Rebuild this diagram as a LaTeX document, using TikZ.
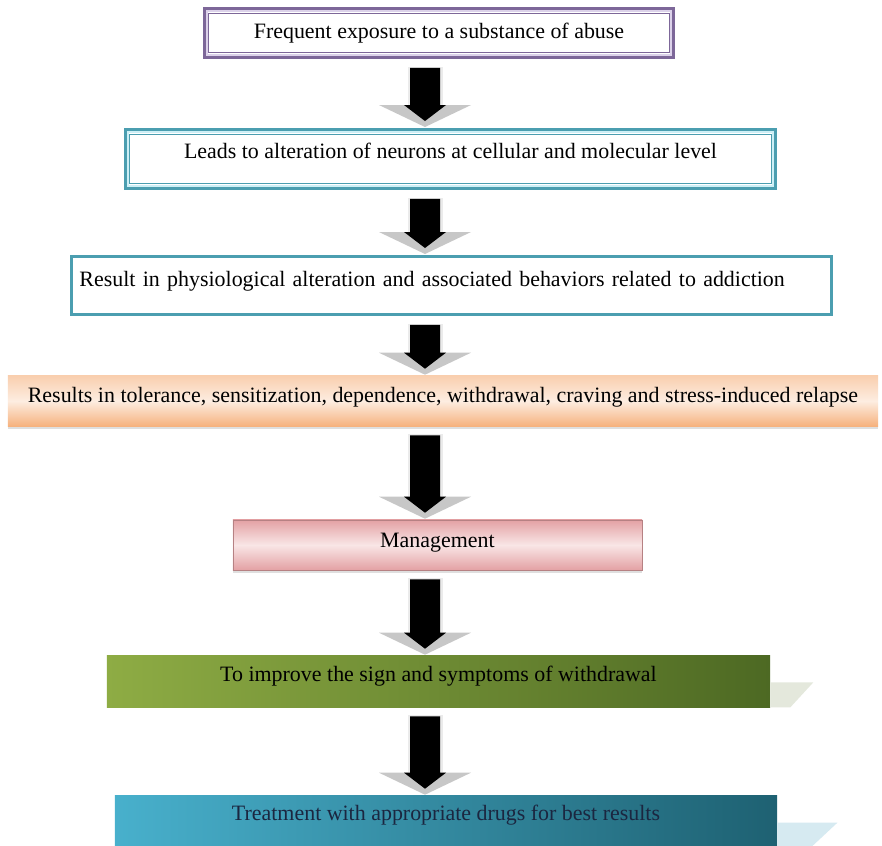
\documentclass[tikz,border=0pt]{standalone}
\usepackage{fontspec}
\setmainfont{Liberation Serif}
\usetikzlibrary{calc,shadows}
\definecolor{purpleedge}{HTML}{7D6799}
\definecolor{purpleband}{HTML}{DCD2EA}
\definecolor{tealedge}{HTML}{4B9EB0}
\definecolor{tealband}{HTML}{CDEFF6}
\definecolor{orangetop}{HTML}{F9CFAF}
\definecolor{orangemid}{HTML}{FDEDE1}
\definecolor{orangebot}{HTML}{F6B27E}
\definecolor{pinkedge}{HTML}{E3A1A4}
\definecolor{pinkmid}{HTML}{F9E6E6}
\definecolor{greenleft}{HTML}{8EAC44}
\definecolor{greenright}{HTML}{4D6923}
\definecolor{blueleft}{HTML}{48B0CC}
\definecolor{blueright}{HTML}{1E6172}
\definecolor{navytext}{HTML}{1B2640}
\definecolor{greenshade}{HTML}{E4E8DC}
\definecolor{blueshade}{HTML}{D6EAF1}

\tikzstyle{block} = [rectangle, text centered, inner sep=0pt, font=\fontsize{15.6}{18}\selectfont, text height=11pt, text depth=3pt]
\tikzstyle{framed} = [block, fill=white]
\tikzstyle{shaded} = [block, drop shadow={opacity=0.25, shadow xshift=0pt, shadow yshift=-2pt}]

\newcommand{\flowarrow}[2]{
  \coordinate (at) at ($(#1.south -| spine)+(0,9)$);
  \coordinate (ab) at ($(#2.north -| spine)+(0,-7)$);
  \fill[black!22] ($(ab)+(-46,-16)$) -- ($(ab)+(46,-16)$) -- ($(ab)+(0,6)$) -- cycle;
  \fill[black!8] ($(at)+(-17,-1)$) rectangle ($(ab)+(18,-16)$);
  \fill ($(at)+(-15,0)$) -- ($(at)+(15,0)$) -- ($(ab)+(15,-16)$) -- ($(ab)+(21,-16)$) -- (ab) -- ($(ab)+(-21,-16)$) -- ($(ab)+(-15,-16)$) -- cycle;
}

\begin{document}
\begin{tikzpicture}[x=0.025cm, y=-0.025cm]

\clip (0,0) rectangle (882,846);
\fill[white] (0,0) rectangle (882,846);
\coordinate (spine) at (425,0);

\node[framed, draw=purpleedge, line width=3.5pt, minimum width=11.675cm, minimum height=1.175cm] (expo) at (439,33) {Frequent exposure to a substance of abuse};
\draw[purpleband, line width=2pt] ($(expo.north west)+(4,4)$) rectangle ($(expo.south east)+(-4,-4)$);
\draw[purpleedge, line width=0.7pt] ($(expo.north west)+(6,6)$) rectangle ($(expo.south east)+(-6,-6)$);

\node[framed, draw=tealedge, line width=3.5pt, minimum width=16.2cm, minimum height=1.425cm, text depth=11.5pt] (alter) at (450.5,159) {Leads to alteration of neurons at cellular and molecular level};
\draw[tealband, line width=2pt] ($(alter.north west)+(4,4)$) rectangle ($(alter.south east)+(-4,-4)$);
\draw[tealedge, line width=0.7pt] ($(alter.north west)+(6,6)$) rectangle ($(alter.south east)+(-6,-6)$);

\node[framed, draw=tealedge, line width=2.1pt, minimum width=19cm, minimum height=1.45cm, text depth=10.1pt, text width=18.6cm, align=left] (result) at (451.5,285.5) {Result in physiological alteration and associated behaviors related to addiction};

\node[shaded, top color=orangetop, bottom color=orangebot, middle color=orangemid, minimum width=21.75cm, minimum height=1.25cm, text depth=8.7pt] (toler) at (443,401) {Results in tolerance, sensitization, dependence, withdrawal, craving and stress-induced relapse};

\node[shaded, draw=pinkedge!80!black, line width=0.4pt, top color=pinkedge, bottom color=pinkedge, middle color=pinkmid, minimum width=10.225cm, minimum height=1.25cm, text depth=7.3pt] (manage) at (437.5,545) {Management};

\node[block, left color=greenleft, right color=greenright, minimum width=16.575cm, minimum height=1.275cm, text depth=11.5pt] (improve) at (438.5,681.5) {To improve the sign and symptoms of withdrawal};
\fill[greenshade] ($(improve.south east)+(0,-25)$) -- ($(improve.south east)+(43,-25)$) -- ($(improve.south east)+(20,0)$) -- (improve.south east) -- cycle;

\node[block, left color=blueleft, right color=blueright, text=navytext, minimum width=16.55cm, minimum height=1.5cm, text depth=18.6pt] (treat) at (446,826) {Treatment with appropriate drugs for best results};
\fill[blueshade] ($(treat.north east)+(0,27)$) -- ($(treat.north east)+(60,27)$) -- ($(treat.north east)+(30,55)$) -- ($(treat.north east)+(0,55)$) -- cycle;

\flowarrow{expo}{alter}
\flowarrow{alter}{result}
\flowarrow{result}{toler}
\flowarrow{toler}{manage}
\flowarrow{manage}{improve}
\flowarrow{improve}{treat}

\end{tikzpicture}
\end{document}
